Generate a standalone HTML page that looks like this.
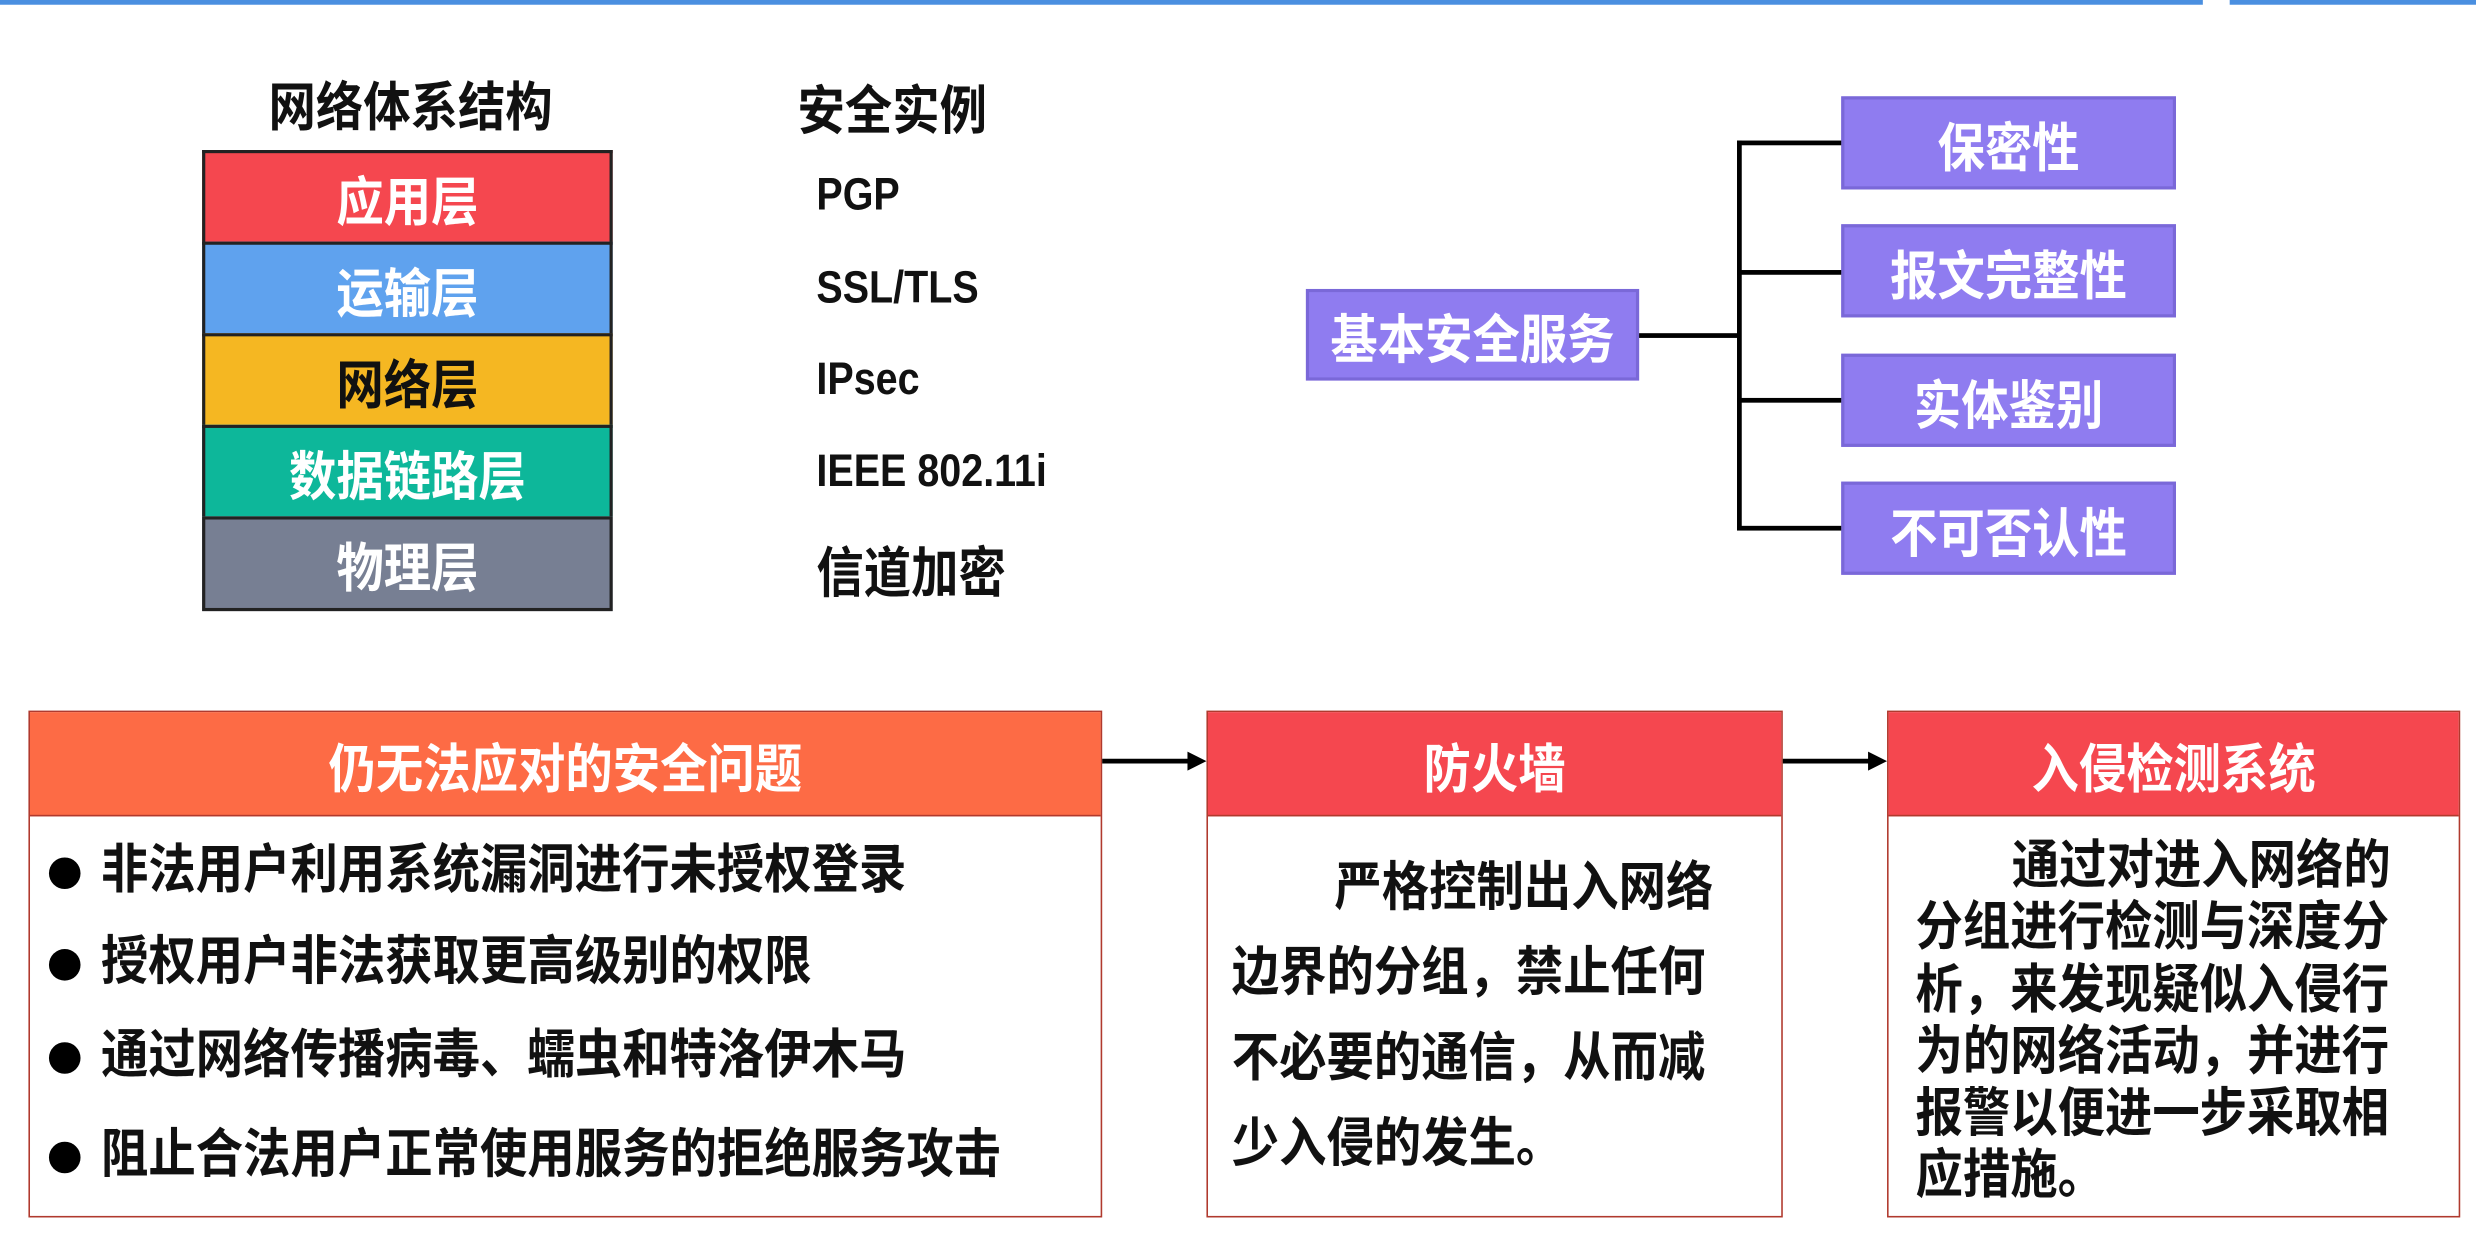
<!DOCTYPE html>
<html><head><meta charset="utf-8"><style>
html,body{margin:0;padding:0;background:#fff;}
body{width:2476px;height:1236px;overflow:hidden;position:relative;}
#w{position:absolute;left:0;top:0;width:1568px;height:783px;transform:scale(1.5791);transform-origin:0 0;font-family:"Liberation Sans","Noto Sans CJK SC",sans-serif;font-weight:bold;}
.a{position:absolute;}
.c{display:flex;align-items:center;justify-content:center;}
.t{display:inline-block;transform:scaleY(1.12);}
.L{left:128px;width:256px;height:56px;border:2px solid #222;border-bottom:none;color:#fff;font-size:30px;}
.ex{left:517px;font-size:25px;color:#111;transform:translateY(-50%) scaleY(1.15);}
.p{background:#8f7cf0;border:2px solid #7a68d8;color:#fff;font-size:30px;box-sizing:border-box;}
.ln{background:#000;}
.box{border:1.5px solid #b03a2e;box-sizing:border-box;background:#fff;}
.hd{color:#fff;font-size:30px;height:65px;border-bottom:1.5px solid #b03a2e;}
.bl{position:absolute;left:12px;font-size:30px;line-height:40px;transform:translateY(-50%);white-space:nowrap;}
.bl span.d{display:inline-block;width:20px;height:20px;border-radius:50%;background:#000;margin-right:13px;vertical-align:middle;}
</style></head><body><div id="w">
<div class="a" style="left:0;top:0;width:1395px;height:3px;background:#4a8fe0"></div>
<div class="a" style="left:1412px;top:0;width:156px;height:3px;background:#4a8fe0"></div>
<div class="a c" style="left:130px;top:45px;width:260px;height:40px;font-size:30px;color:#111"><span class="t">网络体系结构</span></div>
<div class="a" style="left:505px;top:45px;width:125px;height:40px;font-size:30px;color:#111"><span class="t">安全实例</span></div>
<div class="a L c" style="top:95px;background:#f5474f"><span class="t">应用层</span></div>
<div class="a L c" style="top:153px;background:#5fa2ee"><span class="t">运输层</span></div>
<div class="a L c" style="top:211px;background:#f5b722;color:#111"><span class="t">网络层</span></div>
<div class="a L c" style="top:269px;background:#0db79a"><span class="t">数据链路层</span></div>
<div class="a L c" style="top:327px;background:#777f93;border-bottom:2px solid #222"><span class="t">物理层</span></div>
<div class="a ex" style="top:124px">PGP</div>
<div class="a ex" style="top:183px">SSL/TLS</div>
<div class="a ex" style="top:241px">IPsec</div>
<div class="a ex" style="top:299px">IEEE 802.11i</div>
<div class="a ex" style="top:360px;font-size:30px">信道加密</div>
<div class="a p c" style="left:827px;top:183px;width:211px;height:58px"><span class="t">基本安全服务</span></div>
<div class="a p c" style="left:1166px;top:61px;width:212px;height:59px"><span class="t">保密性</span></div>
<div class="a p c" style="left:1166px;top:142px;width:212px;height:59px"><span class="t">报文完整性</span></div>
<div class="a p c" style="left:1166px;top:224px;width:212px;height:59px"><span class="t">实体鉴别</span></div>
<div class="a p c" style="left:1166px;top:305px;width:212px;height:59px"><span class="t">不可否认性</span></div>
<div class="a ln" style="left:1038px;top:211px;width:64px;height:3px"></div>
<div class="a ln" style="left:1100px;top:89px;width:3px;height:246px"></div>
<div class="a ln" style="left:1100px;top:89px;width:66px;height:3px"></div>
<div class="a ln" style="left:1100px;top:171px;width:66px;height:3px"></div>
<div class="a ln" style="left:1100px;top:252px;width:66px;height:3px"></div>
<div class="a ln" style="left:1100px;top:333px;width:66px;height:3px"></div>

<div class="a box" style="left:18px;top:450px;width:680px;height:321px;color:#111">
<div class="hd c" style="background:#fd6b45"><span class="t">仍无法应对的安全问题</span></div>
<div class="bl" style="top:101px"><span class="d"></span><span class="t">非法用户利用系统漏洞进行未授权登录</span></div>
<div class="bl" style="top:159px"><span class="d"></span><span class="t">授权用户非法获取更高级别的权限</span></div>
<div class="bl" style="top:218px"><span class="d"></span><span class="t">通过网络传播病毒、蠕虫和特洛伊木马</span></div>
<div class="bl" style="top:281px"><span class="d"></span><span class="t">阻止合法用户正常使用服务的拒绝服务攻击</span></div>
</div>
<div class="a box" style="left:764px;top:450px;width:365px;height:321px;color:#111">
<div class="hd c" style="background:#f5474f"><span class="t">防火墙</span></div>
<div class="a" style="left:15px;top:85px;font-size:30px;line-height:54px;white-space:nowrap">
<div style="padding-left:65px"><span class="t">严格控制出入网络</span></div>
<div><span class="t">边界的分组，禁止任何</span></div>
<div><span class="t">不必要的通信，从而减</span></div>
<div><span class="t">少入侵的发生。</span></div>
</div></div>
<div class="a box" style="left:1195px;top:450px;width:363px;height:321px;color:#111">
<div class="hd c" style="background:#f5474f"><span class="t">入侵检测系统</span></div>
<div class="a" style="left:17px;top:78px;font-size:30px;line-height:39.3px;white-space:nowrap">
<div style="padding-left:61px"><span class="t">通过对进入网络的</span></div>
<div><span class="t">分组进行检测与深度分</span></div>
<div><span class="t">析，来发现疑似入侵行</span></div>
<div><span class="t">为的网络活动，并进行</span></div>
<div><span class="t">报警以便进一步采取相</span></div>
<div><span class="t">应措施。</span></div>
</div></div>
<svg class="a" style="left:0;top:0" width="1568" height="783">
<line x1="698" y1="482" x2="754" y2="482" stroke="#000" stroke-width="3"/><polygon points="764,482 752,476 752,488" fill="#000"/>
<line x1="1129" y1="482" x2="1185" y2="482" stroke="#000" stroke-width="3"/><polygon points="1195,482 1183,476 1183,488" fill="#000"/>
</svg>
</div></body></html>
